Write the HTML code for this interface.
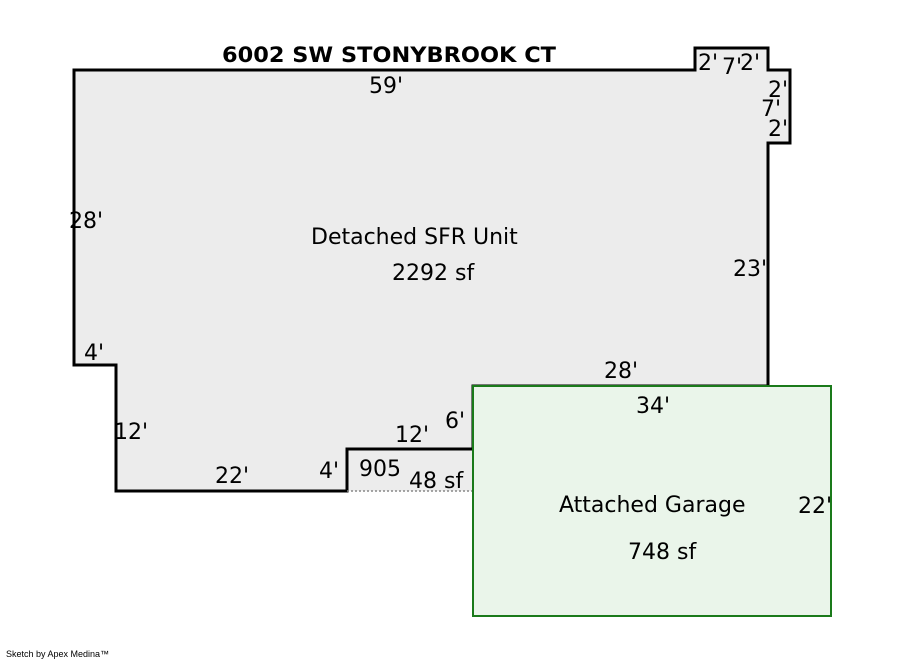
<!DOCTYPE html>
<html><head><style>body{margin:0;background:#fff}svg{display:block}</style></head><body>
<svg width="900" height="660" xmlns="http://www.w3.org/2000/svg" font-family="'DejaVu Sans','Liberation Sans',sans-serif">
<path d="M347,449 L473,449 L473,491 L347,491 Z" fill="#ececec"/>
<path d="M74,70 L695,70 L695,48 L768,48 L768,70 L790,70 L790,143 L768,143 L768,386 L473,386 L473,449 L347,449 L347,491 L116,491 L116,365 L74,365 Z" fill="#ececec" stroke="#000" stroke-width="3" stroke-linejoin="miter"/>
<line x1="347" y1="491" x2="473" y2="491" stroke="#888" stroke-width="1.5" stroke-dasharray="2,2"/>
<rect x="473" y="386" width="358" height="230" fill="#eaf5ea" stroke="#1a7a1a" stroke-width="2"/>
<text x="222" y="62" font-size="21" font-weight="bold" textLength="334" lengthAdjust="spacingAndGlyphs">6002 SW STONYBROOK CT</text>
<g font-size="22" fill="#000">
<text x="369" y="93">59'</text>
<text x="698" y="70">2'</text><text x="722" y="74">7'</text><text x="740" y="70">2'</text>
<text x="768" y="97">2'</text><text x="761" y="116">7'</text><text x="768" y="136">2'</text>
<text x="69" y="228">28'</text>
<text x="733" y="276">23'</text>
<text x="84" y="360">4'</text>
<text x="114" y="439">12'</text>
<text x="215" y="483">22'</text>
<text x="319" y="478">4'</text>
<text x="395" y="442">12'</text>
<text x="445" y="428">6'</text>
<text x="359" y="476">905</text>
<text x="409" y="488">48 sf</text>
<text x="604" y="378">28'</text>
<text x="636" y="413">34'</text>
<text x="798" y="513">22'</text>
<text x="311" y="244">Detached SFR Unit</text>
<text x="392" y="280">2292 sf</text>
<text x="559" y="512">Attached Garage</text>
<text x="628" y="559">748 sf</text>
</g>
<text x="6" y="657" font-size="9" font-family="'Liberation Sans',sans-serif">Sketch by Apex Medina™</text>
</svg>
</body></html>
